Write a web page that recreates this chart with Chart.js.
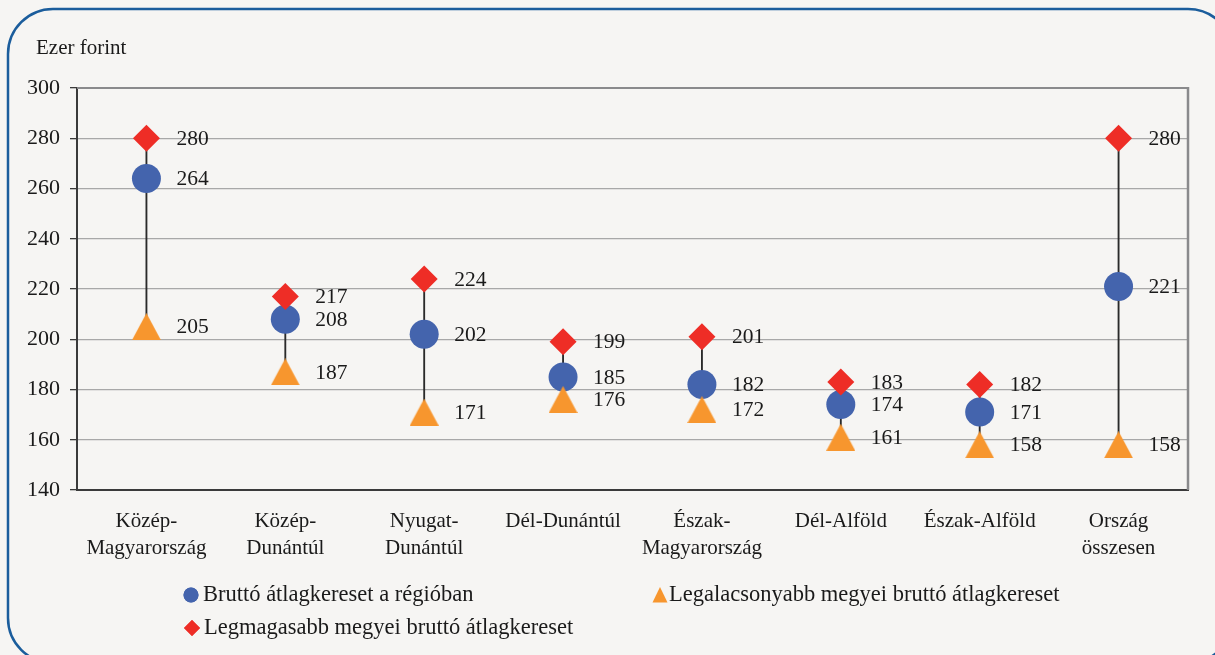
<!DOCTYPE html>
<html><head><meta charset="utf-8">
<script src="https://cdn.jsdelivr.net/npm/chart.js@4/dist/chart.umd.min.js"></script>
<style>
html,body{margin:0;padding:0;background:#f6f5f3;}
#wrap{width:1215px;height:655px;position:relative;overflow:hidden;}
canvas{display:block;}
</style>
</head><body><div id="wrap"><canvas id="c" width="1215" height="655"></canvas></div>
<script>
// ---- data ----
const categories = [["Közép-","Magyarország"],["Közép-","Dunántúl"],["Nyugat-","Dunántúl"],"Dél-Dunántúl",["Észak-","Magyarország"],"Dél-Alföld","Észak-Alföld",["Ország","összesen"]];
const regionalAverage = [264,208,202,185,182,174,171,221];
const lowestCounty   = [205,187,171,176,172,161,158,158];
const highestCounty  = [280,217,224,199,201,183,182,280];
const yTickMin = 140, yTickMax = 300, yTickStep = 20;
const seriesNames = ["Bruttó átlagkereset a régióban","Legalacsonyabb megyei bruttó átlagkereset","Legmagasabb megyei bruttó átlagkereset"];
const unitLabel = "Ezer forint";

const FONT = "'Liberation Serif', 'Times New Roman', serif";
const TXT = '#1a1a1a';
const BLUE = '#4464ad', ORANGE = '#f7962e', RED = '#ee2d26';

function makeTriangle(w, h, color){
  const cv = document.createElement('canvas');
  cv.width = w; cv.height = h;
  const g = cv.getContext('2d');
  g.fillStyle = color;
  g.beginPath(); g.moveTo(w/2,0); g.lineTo(w,h); g.lineTo(0,h); g.closePath(); g.fill();
  return cv;
}
const triBig = makeTriangle(29,27,ORANGE);

const frame = {
  id:'frame',
  beforeDraw(chart){
    const ctx = chart.ctx;
    ctx.save();
    const x=8,y=9,w=1225,h=654,r=45;
    ctx.beginPath();
    ctx.moveTo(x+r,y); ctx.lineTo(x+w-r,y); ctx.arcTo(x+w,y,x+w,y+r,r);
    ctx.lineTo(x+w,y+h-r); ctx.arcTo(x+w,y+h,x+w-r,y+h,r);
    ctx.lineTo(x+r,y+h); ctx.arcTo(x,y+h,x,y+h-r,r);
    ctx.lineTo(x,y+r); ctx.arcTo(x,y,x+r,y,r); ctx.closePath();
    ctx.strokeStyle='#1b5d9c'; ctx.lineWidth=2.5; ctx.stroke();
    ctx.fillStyle=TXT; ctx.font='21px '+FONT; ctx.textBaseline='middle'; ctx.textAlign='left';
    ctx.fillText(unitLabel, 36, 48);
    ctx.restore();
  },
  afterDraw(chart){
    const ctx = chart.ctx, a = chart.chartArea;
    ctx.save();
    ctx.strokeStyle='#8a8a8c'; ctx.lineWidth=2.5;
    ctx.beginPath(); ctx.moveTo(a.right, a.top-1); ctx.lineTo(a.right, a.bottom); ctx.stroke();
    ctx.lineWidth=2;
    ctx.beginPath(); ctx.moveTo(a.left, a.top); ctx.lineTo(a.right, a.top); ctx.stroke();
    // legend
    ctx.font='22.5px '+FONT; ctx.textBaseline='middle'; ctx.textAlign='left';
    const H = Chart.helpers;
    const rows = [
      {x:191,y:595,style:'circle',r:7.5,color:BLUE,text:seriesNames[0]},
      {x:660,y:595,style:'tri',color:ORANGE,text:seriesNames[1]},
      {x:192,y:628,style:'rectRot',r:8,color:RED,text:seriesNames[2]}
    ];
    rows.forEach(it=>{
      ctx.fillStyle=it.color;
      if(it.style==='tri'){
        ctx.beginPath(); ctx.moveTo(it.x, it.y-8); ctx.lineTo(it.x+7.5, it.y+7.5); ctx.lineTo(it.x-7.5, it.y+7.5); ctx.closePath(); ctx.fill();
      } else {
        H.drawPoint(ctx,{pointStyle:it.style,radius:it.r,borderWidth:0,rotation:0},it.x,it.y);
        ctx.fill();
      }
      ctx.fillStyle=TXT;
      ctx.fillText(it.text, it.x + (it.style==='tri'?9:12), it.y);
    });
    ctx.restore();
  },
  afterDatasetsDraw(chart){
    const ctx = chart.ctx;
    ctx.save();
    ctx.font='21.5px '+FONT; ctx.fillStyle=TXT; ctx.textBaseline='middle'; ctx.textAlign='left';
    [1,2,3].forEach(di=>{
      const meta = chart.getDatasetMeta(di);
      const data = chart.data.datasets[di].data;
      meta.data.forEach((el,i)=>{ ctx.fillText(String(data[i]), el.x+30, el.y+1); });
    });
    ctx.restore();
  }
};

new Chart(document.getElementById('c'), {
  data:{
    labels: categories,
    datasets:[
      {type:'bar', label:'range', data: lowestCounty.map((v,i)=>[v, highestCounty[i]]), backgroundColor:'#2a2a2a', barThickness:1.2, order:10, borderWidth:0},
      {type:'line', label:seriesNames[0], data: regionalAverage, showLine:false, pointStyle:'circle', pointRadius:14.5, pointHoverRadius:14.5, pointBackgroundColor:BLUE, pointBorderWidth:0, order:3},
      {type:'line', label:seriesNames[1], data: lowestCounty, showLine:false, pointStyle:triBig, pointRadius:14, pointHoverRadius:14, pointBackgroundColor:ORANGE, pointBorderWidth:0, order:2},
      {type:'line', label:seriesNames[2], data: highestCounty, showLine:false, pointStyle:'rectRot', pointRadius:13.5, pointHoverRadius:13.5, pointBackgroundColor:RED, pointBorderWidth:0, order:1}
    ]
  },
  options:{
    responsive:false, animation:false,
    layout:{padding:{top:88,right:27,left:0,bottom:0}},
    plugins:{legend:{display:false}, tooltip:{enabled:false}, title:{display:false}},
    scales:{
      x:{
        offset:true,
        grid:{display:false, drawTicks:false},
        border:{display:true, color:'#3a3a3a', width:2},
        ticks:{font:{family:FONT,size:21,lineHeight:1.3}, color:TXT, padding:18, maxRotation:0, autoSkip:false},
        afterFit(s){ s.height = 165; }
      },
      y:{
        min:yTickMin, max:yTickMax,
        ticks:{stepSize:yTickStep, font:{family:FONT,size:22}, color:TXT, padding:10},
        grid:{color:'#a8a8a8', lineWidth:1.3, tickLength:7, tickColor:'#3a3a3a'},
        border:{display:true, color:'#3a3a3a', width:2},
        afterFit(s){ s.width = 77; }
      }
    }
  },
  plugins:[frame]
});
</script>
</body></html>
